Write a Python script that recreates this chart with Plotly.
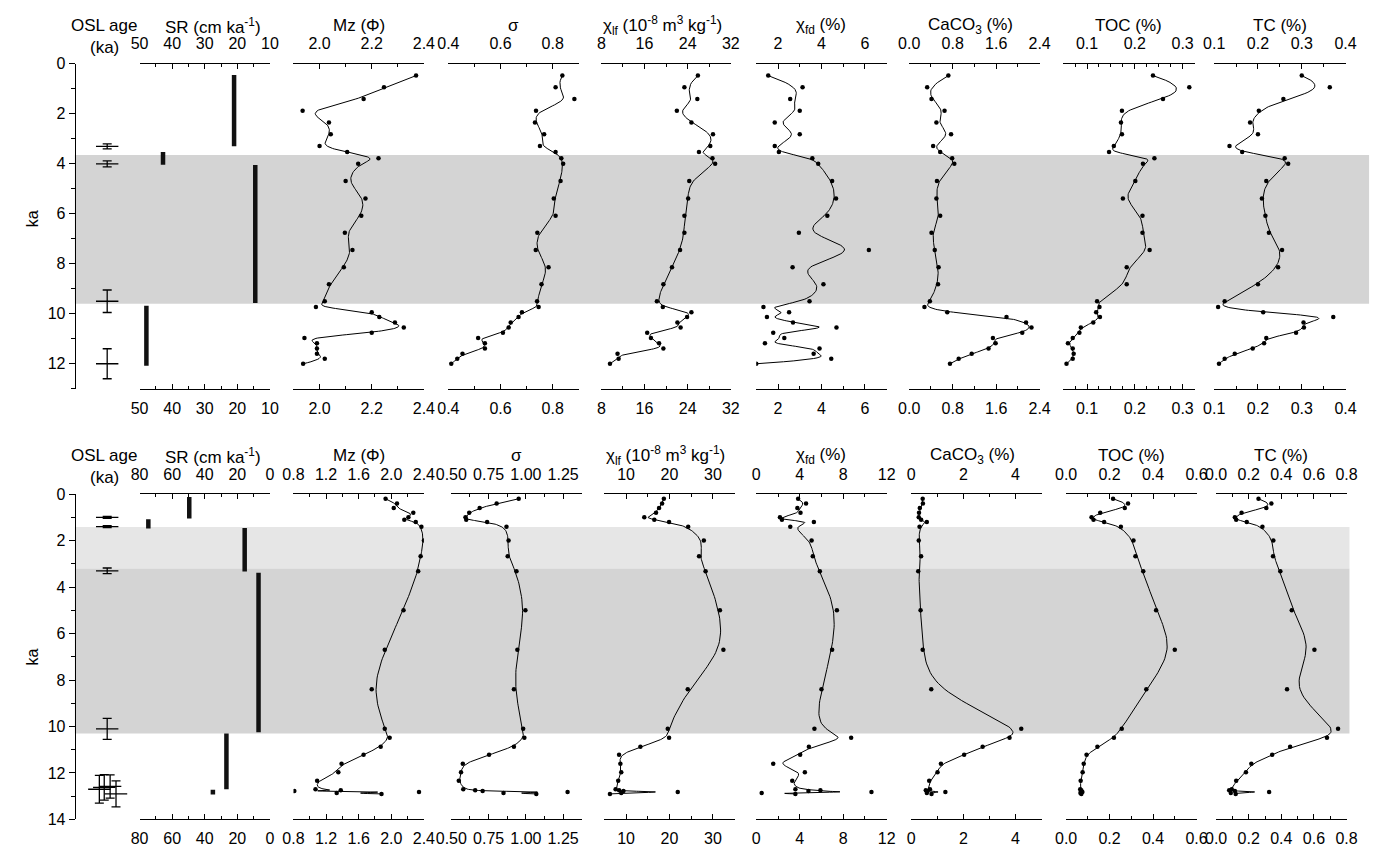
import numpy as np
import plotly.graph_objects as go

W, H = 1384, 851
FONT = "Arial, Liberation Sans, sans-serif"

# ---------------- DATA ----------------
top_age = [0.47, 0.94, 1.41, 1.88, 2.35, 2.82, 3.29, 3.53, 3.78, 4.0, 4.69, 5.39, 6.08, 6.76, 7.45,
           8.14, 8.82, 9.5, 9.73, 9.94, 10.13, 10.35, 10.55, 10.76, 10.97, 11.18, 11.39, 11.6, 11.8, 12.0]
top_mz = [2.37, 2.247, 2.169, 1.935, 2.036, 2.043, 2.0, 2.106, 2.226, 2.148, 2.10, 2.176, 2.16, 2.097, 2.126,
          2.093, 2.036, 2.02, 1.986, 2.20, 2.229, 2.289, 2.323, 2.20, 1.942, 1.99, 1.99, 1.99, 2.02, 1.937]
top_sigma = [0.837, 0.811, 0.883, 0.736, 0.732, 0.767, 0.751, 0.811, 0.833, 0.840, 0.830, 0.804, 0.811, 0.741, 0.735,
             0.784, 0.757, 0.740, 0.746, 0.682, 0.669, 0.639, 0.631, 0.609, 0.514, 0.54, 0.54, 0.454, 0.434, 0.411]
top_chilf = [25.9, 23.4, 25.8, 22.0, 24.7, 28.7, 28.2, 26.1, 28.6, 29.1, 24.3, 24.1, 23.4, 23.4, 22.6,
             21.1, 19.5, 18.3, 19.4, 24.7, 23.9, 22.1, 22.7, 16.5, 17.2, 18.7, 19.5, 11.0, 11.2, 9.6]
top_chifd = [1.55, 3.13, 2.56, 3.0, 1.85, 3.0, 1.85, 2.04, 3.58, 3.85, 4.49, 4.67, 4.27, 2.96, 6.18,
             2.67, 4.09, 3.45, 1.33, 2.51, 1.49, 2.69, 4.69, 1.78, 2.29, 1.4, 3.91, 3.64, 4.45, 1.0]
top_caco3 = [0.72, 0.33, 0.41, 0.65, 0.50, 0.77, 0.44, 0.57, 0.79, 0.83, 0.51, 0.50, 0.57, 0.41, 0.47,
             0.54, 0.53, 0.38, 0.28, 0.70, 1.79, 2.15, 2.25, 2.08, 1.54, 1.59, 1.46, 1.15, 0.91, 0.75]
top_toc = [0.238, 0.314, 0.259, 0.173, 0.171, 0.173, 0.156, 0.146, 0.241, 0.217, 0.201, 0.175, 0.216, 0.216, 0.231,
           0.183, 0.183, 0.121, 0.126, 0.119, 0.127, 0.113, 0.087, 0.084, 0.07, 0.06, 0.07, 0.072, 0.07, 0.057]
top_tc = [0.30, 0.364, 0.258, 0.202, 0.182, 0.20, 0.135, 0.164, 0.261, 0.269, 0.219, 0.209, 0.217, 0.225, 0.255,
          0.246, 0.20, 0.124, 0.109, 0.212, 0.372, 0.304, 0.305, 0.287, 0.219, 0.214, 0.188, 0.147, 0.124, 0.111]

bot_age = [0.2, 0.4, 0.6, 0.8, 1.0, 1.1, 1.2, 1.4, 2.0, 2.67, 3.32, 5.0, 6.7, 8.4, 10.1, 10.48, 10.87,
           11.22, 11.6, 11.97, 12.33, 12.70, 12.74, 12.78, 12.82, 12.86, 12.90]
bot_mz = [1.93, 2.07, 2.03, 2.27, 2.21, 2.16, 2.30, 2.37, 2.40, 2.36, 2.33, 2.15, 1.92, 1.76, 1.92, 1.98, 1.87,
          1.66, 1.39, 1.35, 1.09, 1.07, 1.38, 0.81, 2.34, 1.33, 1.88]
bot_sigma = [0.952, 0.804, 0.69, 0.62, 0.595, 0.60, 0.74, 0.87, 0.884, 0.878, 0.937, 0.997, 0.943, 0.92, 0.982,
             0.99, 0.92, 0.753, 0.577, 0.565, 0.55, 0.58, 0.66, 0.71, 1.28, 0.85, 1.07]
bot_chilf = [18.7, 18.3, 17.6, 16.9, 14.2, 16.5, 19.9, 24.3, 27.9, 26.8, 28.3, 31.6, 32.4, 24.2, 19.6, 19.9, 13.3,
             8.4, 8.7, 8.9, 8.2, 7.6, 8.4, 9.4, 21.9, 8.9, 6.3]
bot_chifd = [3.85, 4.58, 3.78, 4.07, 2.18, 2.36, 5.3, 3.13, 5.09, 5.2, 5.85, 7.42, 6.98, 6.0, 5.35, 8.73, 4.84,
             4.04, 1.56, 4.47, 3.31, 3.6, 5.9, 4.8, 10.6, 0.5, 3.6]
bot_caco3 = [0.44, 0.45, 0.33, 0.30, 0.29, 0.38, 0.60, 0.32, 0.29, 0.38, 0.27, 0.36, 0.44, 0.77, 4.22, 3.77, 2.74,
             2.03, 1.14, 1.01, 0.69, 0.72, 0.56, 0.63, 1.31, 0.6, 0.78]
bot_toc = [0.216, 0.285, 0.27, 0.157, 0.117, 0.126, 0.175, 0.252, 0.31, 0.319, 0.355, 0.414, 0.50, 0.369, 0.256,
           0.22, 0.144, 0.094, 0.081, 0.076, 0.067, 0.065, 0.07, 0.068, 0.075, 0.066, 0.07]
bot_tc = [0.26, 0.339, 0.308, 0.156, 0.115, 0.123, 0.188, 0.284, 0.351, 0.349, 0.394, 0.464, 0.603, 0.435, 0.748,
          0.68, 0.454, 0.344, 0.216, 0.183, 0.123, 0.096, 0.08, 0.115, 0.325, 0.09, 0.12]

# sedimentation rate (cm/ka) over age intervals
top_sr = [21.0, 42.8, 14.5, 47.9]
top_sr_from = [0.45, 3.53, 4.05, 9.68]
top_sr_to = [3.3, 4.04, 9.57, 12.08]
bot_sr = [49.5, 74.6, 15.5, 7.0, 26.7, 35.0]
bot_sr_from = [0.13, 1.08, 1.46, 3.38, 10.3, 12.72]
bot_sr_to = [1.05, 1.48, 3.33, 10.25, 12.7, 12.93]

# OSL ages (ka) and errors
top_osl = [3.3, 4.0, 9.5, 12.0]
top_osl_err = [0.1, 0.12, 0.45, 0.6]
bot_osl = [1.0, 1.4, 3.3, 10.1, 12.7, 12.62, 12.58, 12.9]
bot_osl_err = [0.04, 0.04, 0.12, 0.45, 0.6, 0.55, 0.5, 0.56]

# shaded intervals (ka)
top_bands = [(3.65, 9.6)]
bot_bands = [(1.42, 3.2), (3.2, 10.3)]

titles = ["SR (cm ka<sup>-1</sup>)", "Mz (\u03a6)", "\u03c3",
          "\u03c7<sub>lf</sub> (10<sup>-8</sup> m<sup>3</sup> kg<sup>-1</sup>)",
          "\u03c7<sub>fd</sub> (%)", "CaCO<sub>3</sub> (%)", "TOC (%)", "TC (%)"]

# ---------------- LAYOUT HELPERS ----------------
def fx(px):
    return px / W

def fy(py):
    return 1 - py / H

# panel pixel extents (left, right)
top_ext = [(126, 259), (283, 416), (441, 574), (597, 729), (755, 888), (911, 1044), (1068, 1202), (1222, 1356)]
bot_ext = [(126, 259), (283, 416), (444, 577), (600, 733), (755, 888), (913, 1046), (1071, 1204), (1224, 1357)]
# axis specs: range, tick0, dtick, minor dtick, format
top_spec = [([50, 10], 10, 10, 5, "d"), ([1.9, 2.4], 0, 0.2, 0.1, ".1f"), ([0.4, 0.9], 0, 0.2, 0.1, ".1f"),
            ([8, 32], 0, 8, 4, "d"), ([1, 7], 0, 2, 1, "d"), ([0, 2.4], 0, 0.8, 0.4, ".1f"),
            ([0.05, 0.325], 0, 0.1, 0.025, ".1f"), ([0.1, 0.4], 0, 0.1, 0.05, ".1f")]
bot_spec = [([80, 0], 0, 20, 10, "d"), ([0.8, 2.4], 0, 0.4, 0.2, ".1f"), ([0.5, 1.375], 0, 0.25, 0.125, ".2f"),
            ([5, 35], 0, 10, 5, "d"), ([0, 12], 0, 4, 2, "d"), ([0, 5], 0, 2, 1, "d"),
            ([0, 0.6], 0, 0.2, 0.1, ".1f"), ([0, 0.8], 0, 0.2, 0.1, ".1f")]


def bspline(xs, ys, n_per=14, k=3):
    P = np.column_stack([xs, ys]).astype(float)
    n = len(P)
    m = n - k
    knots = np.concatenate([np.zeros(k + 1), np.arange(1, m), np.full(k + 1, m)]).astype(float)
    ts = np.linspace(0, m, m * n_per + 1)
    out = []
    for t in ts:
        if t >= m:
            out.append(P[-1])
            continue
        N = np.array([1.0 if knots[i] <= t < knots[i + 1] else 0.0 for i in range(len(knots) - 1)])
        for d in range(1, k + 1):
            Nn = np.zeros(len(knots) - 1 - d)
            for i in range(len(Nn)):
                a = b = 0.0
                d1 = knots[i + d] - knots[i]
                if d1 > 0:
                    a = (t - knots[i]) / d1 * N[i]
                d2 = knots[i + d + 1] - knots[i + 1]
                if d2 > 0:
                    b = (knots[i + d + 1] - t) / d2 * N[i + 1]
                Nn[i] = a + b
            N = Nn
        out.append(N @ P)
    out = np.array(out)
    return out[:, 0], out[:, 1]


fig = go.Figure()
layout = {}
counter = [0]


def new_axis(**kw):
    counter[0] += 1
    n = counter[0]
    layout["xaxis" if n == 1 else f"xaxis{n}"] = kw
    return "x" if n == 1 else f"x{n}"


def axis_style(rng, t0, dt, mdt, fmt, standoff):
    return dict(range=rng, showline=True, linecolor="black", linewidth=1.3, ticks="inside", ticklen=5,
                tickwidth=1.2, tickcolor="black", showgrid=False, zeroline=False, tickmode="linear",
                tick0=t0, dtick=dt, tickformat=fmt, ticklabelstandoff=standoff,
                tickfont=dict(size=16, color="black", family=FONT),
                minor=dict(ticks="inside", ticklen=3, tickwidth=1.2, tickcolor="black",
                           tickmode="linear", tick0=t0, dtick=mdt, showgrid=False))


def build_block(yref, ext, spec, age, series, sr, sr_from, sr_to, osl, osl_err, osl_px, bot_standoff):
    # OSL column
    ox = new_axis(domain=[fx(60), fx(125)], range=[60, 125], visible=False, anchor=yref)
    fig.add_trace(go.Scatter(x=osl_px, y=osl, mode="markers", xaxis=ox, yaxis=yref,
                             marker=dict(symbol="line-ew", size=16, color="black",
                                         line=dict(width=1.3, color="black")),
                             error_y=dict(type="data", array=osl_err, symmetric=True, color="black",
                                          thickness=1.3, width=4.5),
                             showlegend=False, hoverinfo="skip"))
    for j, ((l, r), (rng, t0, dt, mdt, fmt)) in enumerate(zip(ext, spec)):
        base = new_axis(domain=[fx(l), fx(r)], anchor=yref, side="bottom",
                        **axis_style(rng, t0, dt, mdt, fmt, bot_standoff))
        top = new_axis(overlaying=base, anchor=yref, side="top", **axis_style(rng, t0, dt, mdt, fmt, 7))
        # invisible anchor trace so the top axis gets drawn
        fig.add_trace(go.Scatter(x=[rng[0]], y=[age[0]], mode="markers", marker=dict(opacity=0),
                                 xaxis=top, yaxis=yref, showlegend=False, hoverinfo="skip"))
        if j == 0:
            bx, by = [], []
            for v, a0, a1 in zip(sr, sr_from, sr_to):
                bx += [v, v, None]
                by += [a0, a1, None]
            fig.add_trace(go.Scatter(x=bx, y=by, mode="lines", xaxis=base, yaxis=yref,
                                     line=dict(color="#111111", width=4.5), showlegend=False))
        else:
            vals = series[j - 1]
            cx, cy = bspline(vals, age)
            fig.add_trace(go.Scatter(x=cx, y=cy, mode="lines", xaxis=base, yaxis=yref,
                                     line=dict(color="black", width=1), showlegend=False, hoverinfo="skip"))
            fig.add_trace(go.Scatter(x=vals, y=age, mode="markers", xaxis=base, yaxis=yref,
                                     marker=dict(size=4.5, color="black"), showlegend=False))


build_block("y", top_ext, top_spec, top_age,
            [top_mz, top_sigma, top_chilf, top_chifd, top_caco3, top_toc, top_tc],
            top_sr, top_sr_from, top_sr_to, top_osl, top_osl_err, [93, 93, 93, 93], 5)
build_block("y2", bot_ext, bot_spec, bot_age,
            [bot_mz, bot_sigma, bot_chilf, bot_chifd, bot_caco3, bot_toc, bot_tc],
            bot_sr, bot_sr_from, bot_sr_to, bot_osl, bot_osl_err, [93, 93, 93, 93, 85, 90, 96, 102], 4)

yst = dict(showline=True, linecolor="black", linewidth=1.3, ticks="outside", ticklen=6, tickwidth=1.2,
           tickcolor="black", showgrid=False, zeroline=False, anchor="free", position=fx(60),
           tickmode="linear", tick0=0, dtick=2, tickfont=dict(size=16, color="black", family=FONT),
           minor=dict(ticks="outside", ticklen=4, tickwidth=1.2, tickcolor="black", tickmode="linear",
                      tick0=0, dtick=1, showgrid=False))
layout["yaxis"] = dict(domain=[fy(388.5), fy(57)], range=[13, 0], **yst)
layout["yaxis2"] = dict(domain=[fy(828), fy(496)], range=[14, 0], **yst)

shapes = []
for (a0, a1) in top_bands:
    shapes.append(dict(type="rect", xref="paper", yref="y", x0=fx(60), x1=fx(1380), y0=a0, y1=a1,
                       fillcolor="#d4d4d4", line=dict(width=0), layer="below"))
bcols = ["#e6e6e6", "#d4d4d4"]
for (a0, a1), c in zip(bot_bands, bcols):
    shapes.append(dict(type="rect", xref="paper", yref="y2", x0=fx(60), x1=fx(1360), y0=a0, y1=a1,
                       fillcolor=c, line=dict(width=0), layer="below"))

ann = []
def txt(s, px, py, size=17, angle=0):
    ann.append(dict(text=s, x=fx(px), y=fy(py), xref="paper", yref="paper", showarrow=False,
                    xanchor="center", yanchor="middle", textangle=angle,
                    font=dict(size=size, color="black", family=FONT)))

for (ext, ty) in [(top_ext, 18), (bot_ext, 457)]:
    txt("OSL age", 90, ty)
    txt("(ka)", 90, ty + 22)
    for j, ((l, r), t) in enumerate(zip(ext, titles)):
        cx = (l + r) / 2 + (8 if j == 0 else 0) - (4 if j in (3, 5) else 0)
        txt(t, cx, ty)
txt("ka", 17, 215, 16, -90)
txt("ka", 17, 662, 16, -90)

fig.update_layout(width=W, height=H, margin=dict(l=0, r=0, t=0, b=0), autosize=False,
                  paper_bgcolor="white", plot_bgcolor="rgba(0,0,0,0)", showlegend=False,
                  shapes=shapes, annotations=ann, font=dict(family=FONT, color="black"), **layout)

fig.write_html("out.html", config={"displayModeBar": False},
               post_script="document.body.style.margin='0';document.body.style.overflow='hidden';")
